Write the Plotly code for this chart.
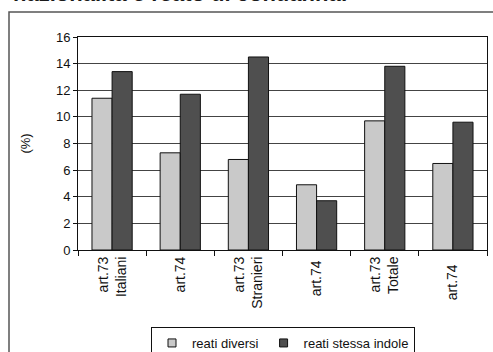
import plotly.graph_objects as go

categories = ["art.73<br>Italiani", "art.74", "art.73<br>Stranieri", "art.74 ", "art.73<br>Totale", "art.74  "]
reati_diversi = [11.4, 7.3, 6.8, 4.9, 9.7, 6.5]
reati_stessa_indole = [13.4, 11.7, 14.5, 3.7, 13.8, 9.6]
y_ticks = [0, 2, 4, 6, 8, 10, 12, 14, 16]
series_names = ["reati diversi", "reati stessa indole"]
series_colors = ["#c9c9c9", "#4f4f4f"]

W, H = 493, 352
ml, mr, mt, mb = 78, 6, 37, 102
pw, ph = W - ml - mr, H - mt - mb

def px_x(p):
    return (p - ml) / pw

def px_y(p):
    return (H - mb - p) / ph

fig = go.Figure()
for vals, name, col in zip([reati_diversi, reati_stessa_indole], series_names, series_colors):
    fig.add_trace(go.Bar(x=categories, y=vals, name=name, showlegend=False,
                         marker=dict(color=col, line=dict(color="#111111", width=1))))
for name, col in zip(series_names, series_colors):
    fig.add_trace(go.Scatter(x=[None], y=[None], mode="markers", name=name,
                             marker=dict(symbol="square", size=8, color=col,
                                         line=dict(color="#111111", width=1))))

fig.update_layout(
    width=W, height=H,
    margin=dict(l=ml, r=mr, t=mt, b=mb, autoexpand=False),
    paper_bgcolor="white", plot_bgcolor="white",
    barmode="group", bargap=0.41, bargroupgap=0,
    font=dict(family="Liberation Sans, Arial, sans-serif", size=13, color="#111111"),
    showlegend=True,
    legend=dict(orientation="h", x=px_x(283), xanchor="center", y=px_y(327), yanchor="top",
                bordercolor="#111111", borderwidth=1, bgcolor="white",
                font=dict(size=13), itemwidth=30, tracegroupgap=0,
                traceorder="normal"),
    xaxis=dict(type="category", tickson="boundaries", ticks="outside", ticklen=5,
               tickcolor="#111111", tickangle=-90, showline=True, linecolor="#111111",
               linewidth=1, mirror=True, showgrid=False, tickfont=dict(size=14),
               automargin=False),
    yaxis=dict(range=[0, 16], tickvals=y_ticks, ticks="outside", ticklen=4,
               tickcolor="#111111", showline=True, linecolor="#111111", linewidth=1,
               mirror=True, showgrid=True, gridcolor="#444444", gridwidth=1,
               zeroline=False, tickfont=dict(size=13), automargin=False,
               title=dict(text="(%)", font=dict(size=13), standoff=22)),
    shapes=[dict(type="rect", xref="paper", yref="paper",
                 x0=px_x(9), x1=px_x(510), y0=px_y(12), y1=px_y(370),
                 line=dict(color="#555555", width=1.5), fillcolor="rgba(0,0,0,0)", layer="below")],
    annotations=[dict(text="<b>nazionalità e reato di condanna:</b>", xref="paper", yref="paper",
                      x=px_x(11), xanchor="left", y=px_y(8), yanchor="bottom", showarrow=False,
                      font=dict(size=22, color="#1a1a1a"))],
)

fig.write_html("out.html", config={"displayModeBar": False},
               post_script="document.body.style.margin='0';")
